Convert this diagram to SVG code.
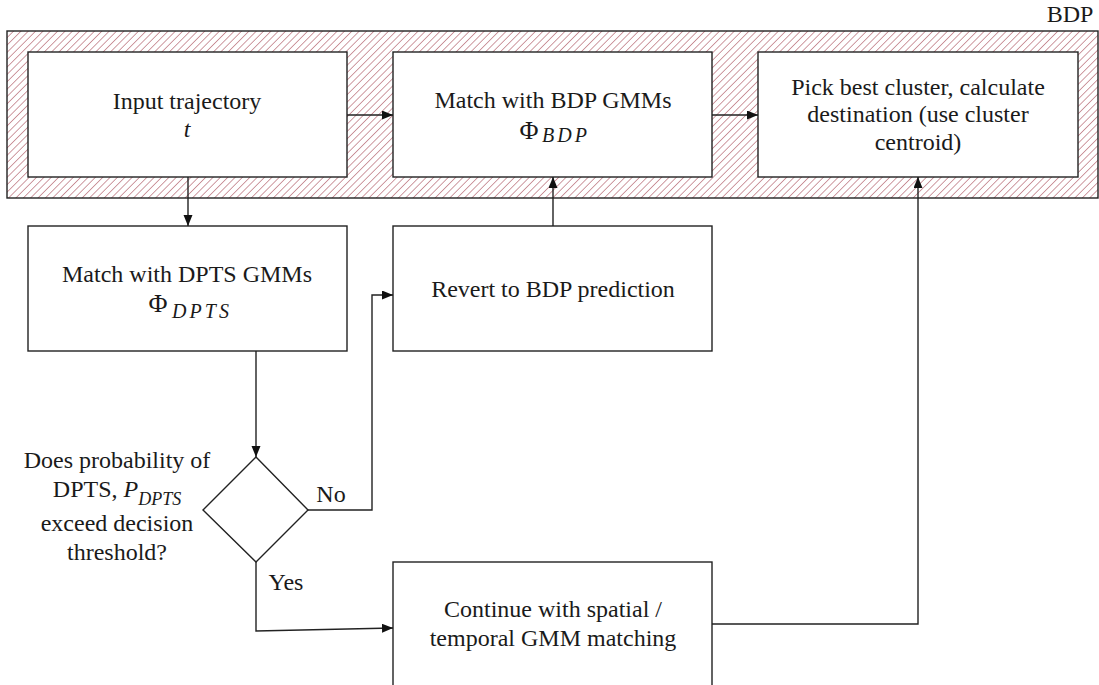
<svg xmlns="http://www.w3.org/2000/svg" width="1099" height="685" viewBox="0 0 1099 685">
<style>
.box{fill:#fff;stroke:#222;stroke-width:1.4}
.t{font-family:"Liberation Serif","Times New Roman",serif;font-size:24px;fill:#1a1a1a;text-anchor:middle}
.i{font-style:italic}
.conn{fill:none;stroke:#222;stroke-width:1.4}
</style>
<defs>
<pattern id="hatch" width="5.2" height="5.2" patternUnits="userSpaceOnUse" patternTransform="rotate(45)">
<rect width="5.2" height="5.2" fill="#fff"/>
<line x1="0" y1="0" x2="0" y2="5.2" stroke="#b05a66" stroke-width="1.2"/>
</pattern>
<marker id="arr" markerUnits="userSpaceOnUse" markerWidth="12" markerHeight="10" refX="11" refY="4.5" orient="auto">
<path d="M0,0 L11,4.5 L0,9 z" fill="#111"/>
</marker>
</defs>
<g id="bdp-region">
<rect x="7" y="31" width="1091" height="167" fill="url(#hatch)" stroke="#222" stroke-width="1.4"/>
<text class="t" x="1070" y="22">BDP</text>
</g>
<g id="input">
<rect class="box" x="28" y="52" width="319" height="125"/>
<text class="t" x="187" y="109">Input trajectory</text>
<text class="t i" x="187" y="137">t</text>
</g>
<g id="match-bdp">
<rect class="box" x="393" y="52" width="319" height="125"/>
<text class="t" x="553" y="108">Match with BDP GMMs</text>
<text class="t" x="529" y="139" style="font-size:26px">Φ</text>
<text class="t i" x="566" y="142" style="font-size:20px;letter-spacing:3px">BDP</text>
</g>
<g id="pick">
<rect class="box" x="758" y="52" width="320" height="125"/>
<text class="t" x="918" y="95">Pick best cluster, calculate</text>
<text class="t" x="918" y="122">destination (use cluster</text>
<text class="t" x="918" y="150">centroid)</text>
</g>
<g id="match-dpts">
<rect class="box" x="28" y="226" width="319" height="125"/>
<text class="t" x="187" y="282">Match with DPTS GMMs</text>
<text class="t" x="158" y="312" style="font-size:26px">Φ</text>
<text class="t i" x="202" y="318" style="font-size:20px;letter-spacing:3px">DPTS</text>
</g>
<g id="revert">
<rect class="box" x="393" y="226" width="319" height="125"/>
<text class="t" x="553" y="297">Revert to BDP prediction</text>
</g>
<g id="decision">
<polygon class="box" points="256,457 308,510 256,562 203,510"/>
<text class="t" x="117" y="468">Does probability of</text>
<text class="t" x="117" y="497">DPTS, <tspan class="i">P</tspan><tspan class="i" dy="8" style="font-size:18px">DPTS</tspan></text>
<text class="t" x="117" y="531">exceed decision</text>
<text class="t" x="117" y="560">threshold?</text>
</g>
<g id="continue">
<rect class="box" x="393" y="562" width="319" height="140"/>
<text class="t" x="553" y="617">Continue with spatial /</text>
<text class="t" x="553" y="646">temporal GMM matching</text>
</g>
<g id="connectors">
<line class="conn" x1="347" y1="115" x2="393" y2="115" marker-end="url(#arr)"/>
<line class="conn" x1="712" y1="115" x2="758" y2="115" marker-end="url(#arr)"/>
<line class="conn" x1="188" y1="177" x2="188" y2="226" marker-end="url(#arr)"/>
<line class="conn" x1="553" y1="226" x2="553" y2="177" marker-end="url(#arr)"/>
<line class="conn" x1="256" y1="351" x2="256" y2="457" marker-end="url(#arr)"/>
<polyline class="conn" points="308,510 372,510 372,295 393,295" marker-end="url(#arr)"/>
<polyline class="conn" points="256,562 256,631 393,628" marker-end="url(#arr)"/>
<polyline class="conn" points="712,624 918,624 918,177" marker-end="url(#arr)"/>
<text class="t" x="331" y="502">No</text>
<text class="t" x="286" y="590">Yes</text>
</g>
</svg>
